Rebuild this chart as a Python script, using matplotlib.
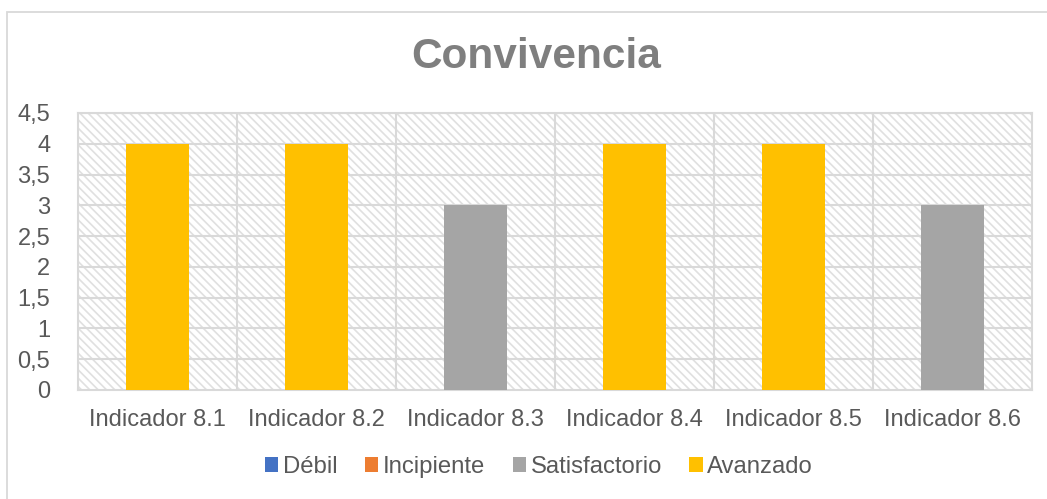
import numpy as np
import matplotlib
matplotlib.use("Agg")
import matplotlib.pyplot as plt
from matplotlib.patches import Rectangle
from matplotlib.ticker import FuncFormatter

plt.rcParams['font.family'] = ['Liberation Sans', 'DejaVu Sans']
plt.rcParams['hatch.linewidth'] = 1.2

# data
categories = ['Indicador 8.1', 'Indicador 8.2', 'Indicador 8.3',
              'Indicador 8.4', 'Indicador 8.5', 'Indicador 8.6']
series_names = ['Débil', 'Incipiente', 'Satisfactorio', 'Avanzado']
debil = [0, 0, 0, 0, 0, 0]
incipiente = [0, 0, 0, 0, 0, 0]
satisfactorio = [0, 0, 3, 0, 0, 3]
avanzado = [4, 4, 0, 4, 4, 0]
colors = ['#4472C4', '#ED7D31', '#A5A5A5', '#FFC000']

text_color = '#595959'
grid_color = '#D9D9D9'

fig = plt.figure(figsize=(10.47, 4.99), dpi=100)
ax = fig.add_axes([78/1047, 1-390/499, (1032-78)/1047, (390-113)/499])

# chart border
fig.patches.append(Rectangle((7/1047, -0.1), 1.2, 1-12/499+0.1, transform=fig.transFigure,
                             fill=False, edgecolor=grid_color, linewidth=1.3))

# hatched plot area
ax.patch.set_visible(False)
ax.add_patch(Rectangle((0, 0), 1, 1, transform=ax.transAxes, facecolor='white',
                       edgecolor='#E0E0E0', hatch='\\\\\\\\', linewidth=0, zorder=0))

x = np.arange(len(categories))
bottom = np.zeros(len(categories))
for name, vals, c in zip(series_names, [debil, incipiente, satisfactorio, avanzado], colors):
    ax.bar(x, vals, width=0.4, bottom=bottom, color=c, label=name, zorder=3)
    bottom += np.array(vals)

ax.set_xlim(-0.5, len(categories) - 0.5)
ax.set_ylim(0, 4.5)
ax.set_yticks(np.arange(0, 4.51, 0.5))
ax.yaxis.set_major_formatter(FuncFormatter(lambda v, p: ('%g' % v).replace('.', ',')))
ax.set_xticks(x)
ax.set_xticklabels(categories)

for yv in np.arange(0.5, 4.51, 0.5):
    ax.axhline(yv, color=grid_color, linewidth=1.5, zorder=1)
for xv in np.arange(0.5, len(categories) - 0.5):
    ax.axvline(xv, color=grid_color, linewidth=1.5, zorder=1)

for s in ax.spines.values():
    s.set_color(grid_color)
    s.set_linewidth(1.5)

ax.tick_params(axis='both', length=0, labelsize=17, colors=text_color)
ax.tick_params(axis='y', pad=20)
ax.tick_params(axis='x', pad=14)

fig.text(536/1047, 1-57/499, 'Convivencia', ha='center', va='center', fontsize=30.5,
         fontweight='bold', color='#7F7F7F')

leg = fig.legend(loc='center', bbox_to_anchor=(539/1047, 1-467/499), ncol=4, frameon=False,
                 fontsize=17.2, handlelength=0.55, handleheight=0.55, handletextpad=0.2,
                 columnspacing=1.15, borderaxespad=0)
for t in leg.get_texts():
    t.set_color(text_color)

fig.savefig('out.png', dpi=100)
